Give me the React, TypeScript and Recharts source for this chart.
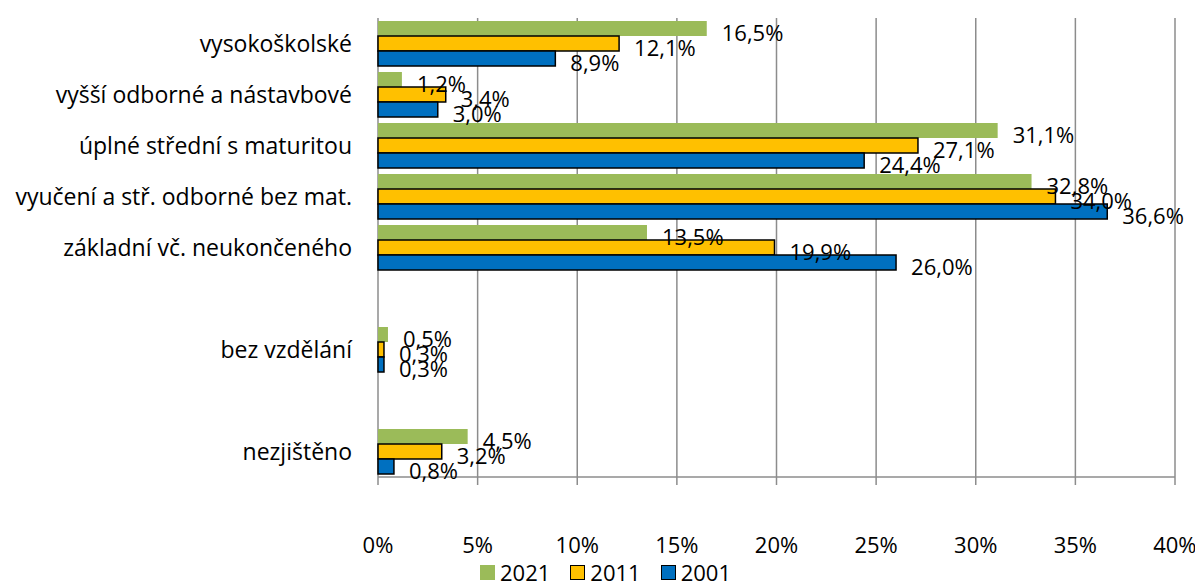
import React from 'react';
import {
  BarChart, Bar, XAxis, YAxis, CartesianGrid, Legend, LabelList
} from 'recharts';

// Categories (two empty slots keep the gaps of the original)
const categories = [
  'vysokoškolské',
  'vyšší odborné a nástavbové',
  'úplné střední s maturitou',
  'vyučení a stř. odborné bez mat.',
  'základní vč. neukončeného',
  '',
  'bez vzdělání',
  ' ',
  'nezjištěno',
];

const values2021 = [16.5, 1.2, 31.1, 32.8, 13.5, null, 0.5, null, 4.5];
const values2011 = [12.1, 3.4, 27.1, 34.0, 19.9, null, 0.3, null, 3.2];
const values2001 = [8.9, 3.0, 24.4, 36.6, 26.0, null, 0.3, null, 0.8];

const xTicks = [0, 5, 10, 15, 20, 25, 30, 35, 40];
const frameTicks = [0, 1, 2, 3, 4, 5, 6, 7, 8, 9];

const series = [
  { key: 'y2021', name: '2021', color: '#9BBB59', stroke: 'none' },
  { key: 'y2011', name: '2011', color: '#FFC000', stroke: '#000' },
  { key: 'y2001', name: '2001', color: '#0070C0', stroke: '#000' },
];

const data = categories.map((name, i) => ({
  name,
  y2021: values2021[i],
  y2011: values2011[i],
  y2001: values2001[i],
}));

const FONT = "'Open Sans', 'Noto Sans', sans-serif";
const GRID = '#8c8c8c';

const fmt = (v: number) => `${v.toFixed(1).replace('.', ',')}%`;

const renderLabel = (props: any) => {
  const { x, y, width, height, value } = props;
  if (value == null) return null;
  return (
    <text
      x={x + width + 15}
      y={y + height / 2 + 3}
      dominantBaseline="central"
      fontSize={22}
      fontFamily={FONT}
      fill="#000"
    >
      {fmt(value)}
    </text>
  );
};

const LegendContent = () => (
  <div style={{ display: 'flex', height: 25, alignItems: 'flex-end', paddingLeft: 480, fontFamily: FONT, fontSize: 22, lineHeight: '25px' }}>
    {series.map(s => (
      <div key={s.key} style={{ display: 'flex', alignItems: 'center', marginRight: 20 }}>
        <span style={{
          display: 'inline-block', width: 15, height: 15, background: s.color, boxSizing: 'border-box',
          border: s.stroke === 'none' ? 'none' : '1.5px solid #000', marginRight: 5,
        }} />
        <span>{s.name}</span>
      </div>
    ))}
  </div>
);

export default function App() {
  return (
    <div style={{ position: 'absolute', left: 0, top: 0, background: '#fff' }}>
      <BarChart
        width={1195}
        height={585}
        data={data}
        layout="vertical"
        margin={{ top: 18, right: 20, bottom: 0, left: 0 }}
        barGap={0}
        barSize={15}
      >
        <CartesianGrid horizontal={false} stroke={GRID} strokeWidth={1.5} />
        <XAxis
          type="number"
          domain={[0, 40]}
          ticks={xTicks}
          tickFormatter={(v: number) => `${v}%`}
          height={83}
          stroke={GRID}
          strokeWidth={1.5}
          tickSize={8}
          tickMargin={52}
          tick={{ fill: '#000', fontSize: 22, fontFamily: FONT }}
        />
        <YAxis
          yAxisId="frame"
          type="number"
          domain={[0, 9]}
          ticks={frameTicks}
          width={0}
          tick={false}
          tickSize={7}
          stroke={GRID}
          strokeWidth={1.5}
        />
        <YAxis
          type="category"
          dataKey="name"
          width={378}
          axisLine={false}
          tickLine={false}
          tickSize={0}
          tickMargin={26}
          interval={0}
          tick={{ fill: '#000', fontSize: 23, fontFamily: FONT }}
        />
        <Legend content={<LegendContent />} verticalAlign="bottom" />
        {series.map(s => (
          <Bar
            key={s.key}
            dataKey={s.key}
            name={s.name}
            fill={s.color}
            stroke={s.stroke}
            strokeWidth={1.5}
            isAnimationActive={false}
          >
            <LabelList dataKey={s.key} content={renderLabel} />
          </Bar>
        ))}
      </BarChart>
    </div>
  );
}
